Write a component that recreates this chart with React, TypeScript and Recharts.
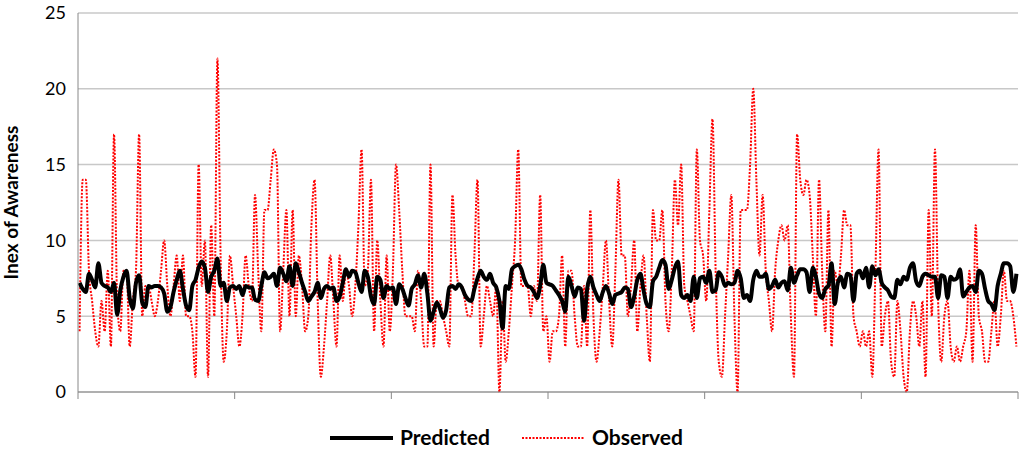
import React from 'react';
import { LineChart, Line, XAxis, YAxis, CartesianGrid, Legend } from 'recharts';

// predicted index of awareness, one value per case (300 cases)
const predicted = [
  7.2, 6.8, 6.6, 7.8, 7.4, 6.9, 8.5, 7.2, 7.0, 6.9, 6.6, 7.2, 5.1, 6.7, 7.6, 8.0, 6.2, 5.5, 7.2, 7.7, 5.9, 5.6, 7.0, 6.9, 7.0,
  7.0, 6.9, 6.5, 5.3, 5.6, 6.6, 7.4, 8.0, 6.8, 5.7, 5.4, 7.0, 7.4, 8.2, 8.6, 8.2, 6.6, 7.6, 8.0, 8.8, 7.0, 7.2, 6.0, 6.9, 7.0,
  6.8, 7.0, 6.4, 7.0, 6.9, 6.9, 6.1, 6.0, 7.0, 7.9, 7.5, 7.6, 7.8, 7.0, 8.2, 7.8, 7.3, 8.3, 7.0, 8.5, 7.9, 7.2, 6.6, 6.0, 6.3,
  6.6, 7.2, 6.2, 6.8, 7.0, 6.8, 6.9, 6.0, 6.3, 7.2, 8.1, 7.6, 8.0, 7.9, 7.2, 6.6, 8.0, 7.6, 6.3, 5.8, 7.6, 7.4, 6.2, 7.0, 6.8,
  6.9, 5.8, 7.1, 6.8, 6.2, 5.7, 6.8, 7.1, 7.7, 6.9, 7.8, 6.5, 4.7, 5.3, 5.9, 5.5, 4.9, 5.4, 6.9, 7.0, 6.8, 7.1, 6.9, 6.4, 6.1,
  6.0, 6.8, 7.5, 8.0, 7.6, 7.4, 7.8, 7.2, 6.9, 6.0, 4.2, 7.0, 6.8, 8.1, 8.3, 8.4, 8.1, 7.4, 7.0, 6.9, 6.6, 6.2, 7.0, 8.4, 7.2,
  7.1, 7.0, 6.7, 6.4, 6.0, 5.3, 7.6, 7.0, 6.3, 6.9, 6.8, 4.7, 6.8, 7.6, 6.9, 6.4, 6.0, 6.6, 7.0, 6.5, 5.8, 6.4, 6.5, 6.6, 6.9,
  6.8, 5.6, 6.3, 7.4, 7.8, 6.7, 5.8, 5.6, 7.3, 7.6, 8.2, 8.7, 8.4, 6.8, 7.4, 8.2, 8.6, 6.4, 6.2, 6.4, 6.0, 7.6, 6.2, 7.5, 7.6,
  7.2, 8.0, 6.6, 6.7, 7.9, 7.6, 7.0, 7.2, 7.1, 7.2, 8.0, 7.5, 6.2, 6.4, 6.0, 7.4, 8.0, 7.6, 7.6, 7.8, 6.8, 7.0, 7.4, 6.9, 7.2,
  7.3, 6.7, 8.2, 7.2, 7.7, 8.1, 8.1, 7.9, 6.6, 8.2, 7.6, 6.5, 6.2, 6.8, 7.0, 8.5, 5.8, 7.2, 7.6, 6.9, 7.8, 7.7, 6.0, 7.8, 8.0,
  7.5, 8.2, 6.9, 8.3, 7.7, 8.1, 7.2, 6.9, 6.7, 6.3, 6.2, 7.4, 7.1, 7.6, 7.4, 8.2, 8.5, 7.3, 7.0, 7.6, 7.8, 7.7, 7.6, 7.6, 6.2,
  7.7, 7.6, 6.2, 7.6, 7.4, 7.5, 8.1, 6.3, 6.6, 6.9, 7.0, 6.6, 8.0, 7.8, 6.8, 6.0, 5.8, 5.4, 7.0, 7.8, 8.5, 8.5, 8.3, 6.6, 7.8,
];

// observed index of awareness for the same cases
const observed = [
  4, 14, 14, 8, 6, 4, 3, 6, 4, 8, 3, 17, 6, 4, 8, 8, 3, 6, 8, 17, 5, 7, 7, 6, 5,
  6, 8, 10, 7, 5, 7, 9, 6, 9, 5, 5, 4, 1, 15, 7, 10, 1, 11, 5, 22, 9, 2, 4, 9, 7,
  5, 3, 5, 9, 7, 6, 13, 8, 4, 12, 12, 14, 16, 15, 4, 8, 12, 5, 12, 5, 9, 7, 4, 5, 11,
  14, 6, 1, 3, 6, 9, 6, 3, 9, 6, 8, 7, 5, 7, 11, 16, 7, 8, 14, 4, 10, 6, 3, 9, 4,
  8, 15, 12, 8, 5, 5, 5, 4, 8, 6, 3, 3, 15, 3, 6, 6, 5, 4, 3, 13, 9, 7, 7, 6, 5,
  5, 9, 14, 3, 5, 7, 6, 5, 7, 0, 6, 2, 4, 7, 10, 16, 7, 7, 7, 5, 7, 6, 13, 4, 5,
  2, 4, 4, 5, 9, 3, 8, 8, 5, 3, 3, 7, 3, 12, 5, 2, 4, 7, 10, 6, 3, 8, 14, 9, 9,
  5, 7, 10, 4, 7, 9, 5, 2, 12, 10, 10, 12, 6, 4, 8, 14, 11, 15, 7, 6, 5, 4, 16, 10, 9,
  6, 12, 18, 8, 2, 1, 5, 9, 13, 5, 0, 12, 12, 12, 15, 20, 14, 9, 13, 8, 6, 4, 8, 10, 11,
  10, 11, 5, 1, 17, 14, 13, 14, 13, 9, 5, 14, 8, 4, 12, 3, 8, 7, 9, 12, 11, 11, 5, 4, 3,
  4, 3, 4, 1, 8, 16, 3, 5, 6, 2, 1, 6, 4, 1, 0, 4, 6, 5, 3, 6, 1, 12, 5, 16, 6,
  2, 5, 6, 3, 2, 3, 2, 3, 4, 8, 2, 11, 5, 4, 2, 2, 4, 6, 3, 5, 8, 6, 6, 5, 3,
];

const yTicks = [0, 5, 10, 15, 20, 25];
const xTicks = [0, 50, 100, 150, 200, 250, 300];

const data = predicted.map((p, i) => ({ x: i + 0.5, predicted: p, observed: observed[i] }));

const FONT = 'Lato, "Liberation Sans", sans-serif';

function LegendBox() {
  return (
    <svg width={1024} height={30}>
      <line x1={330} x2={393} y1={14} y2={14} stroke="#000" strokeWidth={4} />
      <text x={400} y={21} fontFamily={FONT} fontSize={21} fontWeight="bold" fill="#000">Predicted</text>
      <line x1={522} x2={585} y1={14} y2={14} stroke="#ff0000" strokeWidth={2} strokeDasharray="2 1.5" />
      <text x={592} y={21} fontFamily={FONT} fontSize={21} fontWeight="bold" fill="#000">Observed</text>
    </svg>
  );
}

export default function App() {
  return (
    <div style={{ position: 'absolute', left: 0, top: 0, width: 1024, height: 452, background: '#fff' }}>
      <LineChart width={1024} height={452} data={data} margin={{ top: 13, right: 6, left: 0, bottom: 40 }}>
        <CartesianGrid vertical={false} stroke="#c8c8c8" strokeWidth={1.5} />
        <XAxis
          type="number"
          dataKey="x"
          domain={[0, 300]}
          ticks={xTicks}
          tickFormatter={() => ''}
          height={20}
          stroke="#888"
          tickSize={7}
        />
        <YAxis
          domain={[0, 25]}
          ticks={yTicks}
          width={78}
          stroke="#888"
          tickLine={false}
          tick={{ fill: '#000', fontSize: 18, fontFamily: FONT }}
          tickMargin={6}
          label={{
            value: 'Inex of Awareness',
            angle: -90,
            position: 'insideLeft',
            dx: 6,
            style: { textAnchor: 'middle', fontFamily: FONT, fontSize: 19, fontWeight: 'bold', fill: '#000' },
          }}
        />
        <Line
          type="monotone"
          dataKey="observed"
          stroke="#ff0000"
          strokeWidth={2}
          strokeDasharray="2 1.5"
          dot={false}
          isAnimationActive={false}
        />
        <Line
          type="monotone"
          dataKey="predicted"
          stroke="#000"
          strokeWidth={4}
          dot={false}
          isAnimationActive={false}
        />
        <Legend
          layout="horizontal"
          verticalAlign="middle"
          align="center"
          wrapperStyle={{ top: 424, left: 0, width: 1024 }}
          content={() => <LegendBox />}
        />
      </LineChart>
    </div>
  );
}
